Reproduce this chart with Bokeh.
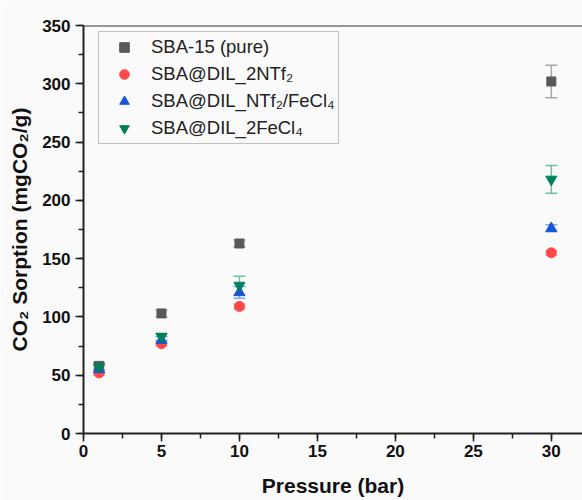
from bokeh.plotting import figure
from bokeh.models import (ColumnDataSource, Whisker, TeeHead, Legend, LegendItem,
                          SingleIntervalTicker, Span, Range1d)
from bokeh.embed import file_html
from bokeh.resources import INLINE

# ---- data ----
pressure = [1, 5, 10, 30]
sba15 = [58, 103, 163, 302]
sba15_err = [3, 3, 3, 14]
dil_2ntf2 = [52, 77, 109, 155]
dil_2ntf2_err = [2, 2, 2, 2]
dil_ntf2_fecl4 = [55, 80, 121, 176]
dil_ntf2_fecl4_err = [3, 3, 5, 3]
dil_2fecl4 = [57, 83, 127, 218]
dil_2fecl4_err = [3, 3, 8, 12]

labels = ["SBA-15 (pure)", "SBA@DIL_2NTf\u2082", "SBA@DIL_NTf\u2082/FeCl\u2084", "SBA@DIL_2FeCl\u2084"]
colors = ["#595959", "#ff4848", "#1656d8", "#00805a"]
err_colors = ["#a8a8a8", "#ffa0a0", "#80a8ec", "#70c0a8"]
markers = ["square", "circle", "triangle", "inverted_triangle"]
sizes = [9, 10, 11, 11]
series = [(sba15, sba15_err), (dil_2ntf2, dil_2ntf2_err),
          (dil_ntf2_fecl4, dil_ntf2_fecl4_err), (dil_2fecl4, dil_2fecl4_err)]

FONT = "Liberation Sans"
BG = "#fafafa"

p = figure(width=582, height=500, output_backend="svg", toolbar_location=None,
           x_range=Range1d(0, 32), y_range=Range1d(0, 350),
           min_border_left=83, min_border_right=0, min_border_top=25, min_border_bottom=67,
           background_fill_color=BG, border_fill_color=BG)
p.outline_line_color = None
p.xgrid.visible = False
p.ygrid.visible = False

p.xaxis.ticker = SingleIntervalTicker(interval=5, num_minor_ticks=2)
p.yaxis.ticker = SingleIntervalTicker(interval=50, num_minor_ticks=2)
p.xaxis.axis_label = "Pressure (bar)"
p.yaxis.axis_label = "CO\u2082 Sorption (mgCO\u2082/g)"
for ax in (p.xaxis, p.yaxis):
    ax.axis_line_width = 2
    ax.axis_line_color = "#222222"
    ax.major_tick_line_color = "#222222"
    ax.minor_tick_line_color = "#222222"
    ax.major_tick_line_width = 1.5
    ax.minor_tick_line_width = 1.5
    ax.major_tick_in = 0
    ax.major_tick_out = 8
    ax.minor_tick_in = 0
    ax.minor_tick_out = 5
    ax.major_label_text_font = FONT
    ax.major_label_text_font_style = "bold"
    ax.major_label_text_font_size = "17px"
    ax.major_label_text_color = "#111111"
    ax.axis_label_text_font = FONT
    ax.axis_label_text_font_style = "bold"
    ax.axis_label_text_font_size = "21px"
    ax.axis_label_text_color = "#111111"
p.xaxis.major_label_standoff = 3
p.yaxis.major_label_standoff = 5
p.xaxis.axis_label_standoff = 14
p.yaxis.axis_label_standoff = 8

# top frame line
p.add_layout(Span(location=350, dimension="width", line_color="#333333", line_width=2))

items = []
for (vals, errs), lab, col, ecol, mk, sz in zip(series, labels, colors, err_colors, markers, sizes):
    src = ColumnDataSource(dict(x=pressure, y=vals,
                                lo=[v - e for v, e in zip(vals, errs)],
                                hi=[v + e for v, e in zip(vals, errs)]))
    w = Whisker(source=src, base="x", upper="hi", lower="lo", line_color=ecol, line_width=1.5,
                upper_head=TeeHead(size=12, line_color=ecol, line_width=1.5),
                lower_head=TeeHead(size=12, line_color=ecol, line_width=1.5))
    p.add_layout(w)
    r = p.scatter("x", "y", source=src, marker=mk, size=sz, fill_color=col, line_color=col)
    items.append(LegendItem(label=lab, renderers=[r]))

legend = Legend(items=items, location=(15, 289), padding=3, spacing=3,
                label_height=24, glyph_height=24, glyph_width=44, label_standoff=5,
                label_text_font=FONT, label_text_font_size="18.5px", label_text_color="#222222",
                border_line_color="#888888", border_line_width=1,
                background_fill_color=BG, background_fill_alpha=1.0, margin=0)
p.add_layout(legend)

open("out.html", "w").write(file_html(p, INLINE))
